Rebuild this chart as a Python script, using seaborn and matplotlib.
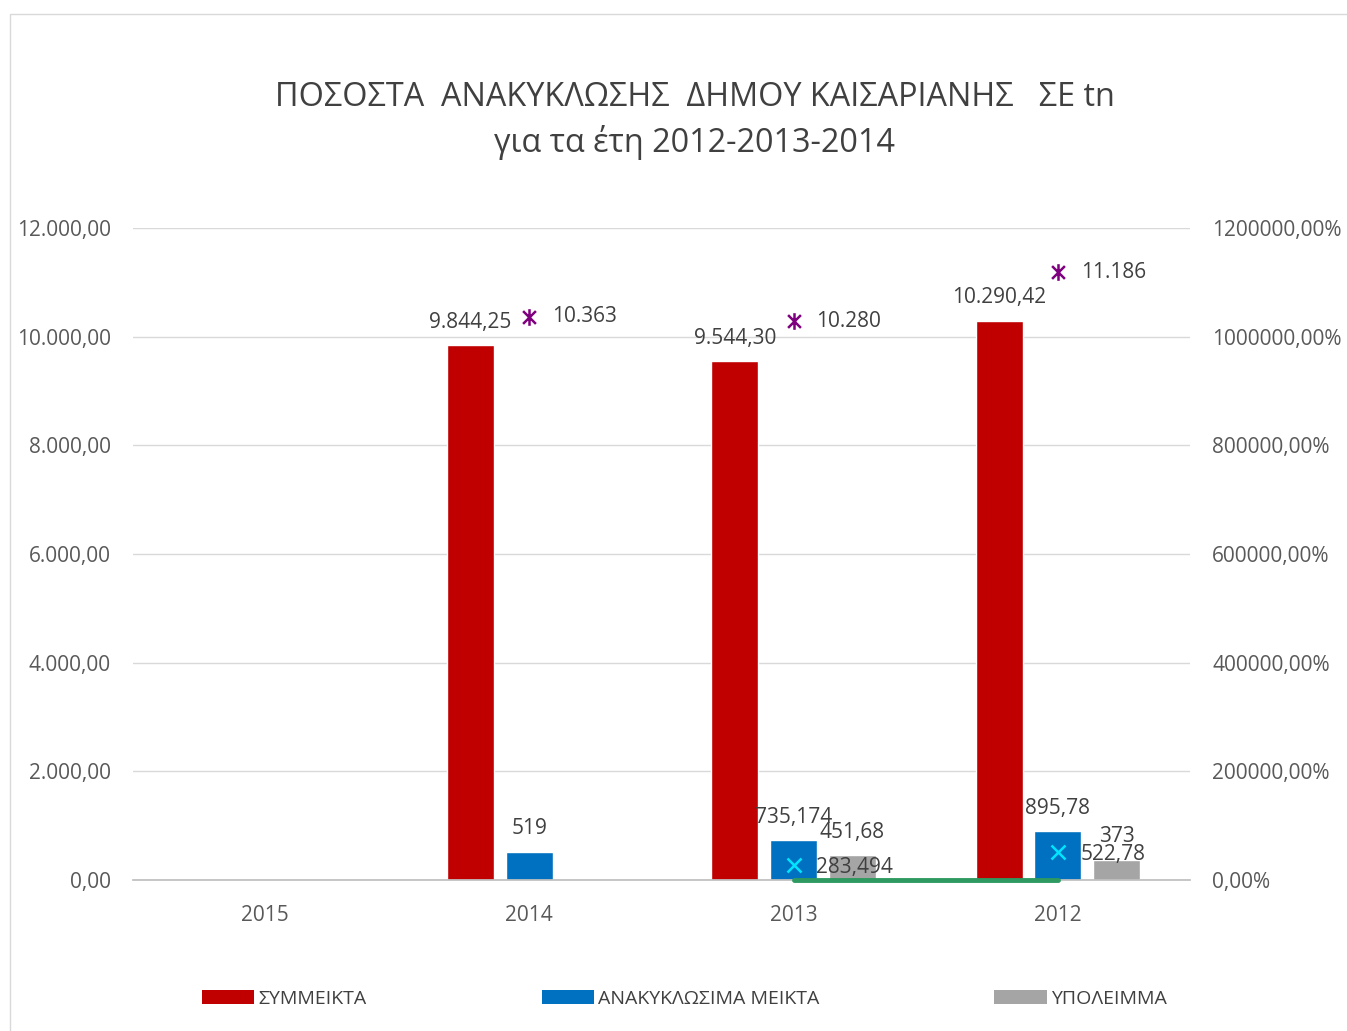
import matplotlib
matplotlib.use('Agg')
import matplotlib.pyplot as plt
from matplotlib.patches import Patch, Rectangle
from matplotlib.path import Path
import seaborn as sns
import pandas as pd
import numpy as np

# data
years = ['2015', '2014', '2013', '2012']
series = ['ΣΥΜΜΕΙΚΤΑ', 'ΑΝΑΚΥΚΛΩΣΙΜΑ ΜΕΙΚΤΑ', 'ΥΠΟΛΕΙΜΜΑ']
symmeikta = [np.nan, 9844.25, 9544.30, 10290.42]
anakyklosima = [np.nan, 519, 735.174, 895.78]
ypoleimma = [np.nan, np.nan, 451.68, 373]
synolo = [np.nan, 10363, 10280, 11186]
cross_vals = [np.nan, np.nan, 283.494, 522.78]
pososto = [np.nan, np.nan, 0.0, 0.0]

colors = ['#C00000', '#0070C0', '#A5A5A5']
txt = '#404040'

sns.set_theme(style='white')
plt.rcParams['font.family'] = ['Open Sans', 'DejaVu Sans']

rows = []
for s, vals in zip(series, [symmeikta, anakyklosima, ypoleimma]):
    for y, v in zip(years, vals):
        if not np.isnan(v):
            rows.append({'year': y, 'series': s, 'value': v})
df = pd.DataFrame(rows)

fig = plt.figure(figsize=(13.47, 10.31), dpi=100)
ax = fig.add_axes([0.0987, 0.1465, 0.7847, 0.6324])

sns.barplot(data=df, x='year', y='value', hue='series', order=years,
            hue_order=series, palette=colors, width=0.667, gap=0.2,
            saturation=1, legend=False, ax=ax)


def gr_thousands(v, dec):
    s = f"{v:,.{dec}f}"
    return s.replace(',', 'X').replace('.', ',').replace('X', '.')


def gr_general(v):
    return f"{v:g}".replace('.', ',')


for i, cont in enumerate(ax.containers):
    if i == 0:
        fmt = lambda v: gr_thousands(v, 2)
    else:
        fmt = gr_general
    ax.bar_label(cont, fmt=fmt, padding=9, fontsize=15, color=txt)

xpos = np.arange(len(years))

# star markers (totals)
star = Path([(-1, -1), (1, 1), (-1, 1), (1, -1), (0, -1.3), (0, 1.3)],
            [Path.MOVETO, Path.LINETO, Path.MOVETO, Path.LINETO,
             Path.MOVETO, Path.LINETO])
ax.plot(xpos, synolo, linestyle='none', marker=star, markersize=12,
        markerfacecolor='none', markeredgecolor='#7F007F', markeredgewidth=1.8)
for x, v in zip(xpos, synolo):
    if not np.isnan(v):
        ax.annotate(gr_thousands(v, 0), (x, v), xytext=(16.5, 0),
                    textcoords='offset points', ha='left', va='center',
                    fontsize=15, color=txt)

# cyan x markers
ax.plot(xpos, cross_vals, linestyle='none', marker='x', markersize=10,
        markeredgecolor='#00E5FF', markeredgewidth=1.8)
for x, v in zip(xpos, cross_vals):
    if not np.isnan(v):
        ax.annotate(gr_general(v), (x, v), xytext=(16.5, -2),
                    textcoords='offset points', ha='left', va='center',
                    fontsize=15, color=txt)

ax.set_xlim(-0.5, 3.5)
ax.set_ylim(0, 12000)
ax.set_yticks(np.arange(0, 12001, 2000))
ax.set_yticklabels([gr_thousands(v, 2) for v in np.arange(0, 12001, 2000)])
ax.set_xlabel('')
ax.set_ylabel('')
ax.grid(axis='y', color='#D9D9D9', linewidth=1)
ax.set_axisbelow(True)
for s in ['top', 'left', 'right']:
    ax.spines[s].set_visible(False)
ax.spines['bottom'].set_color('#BFBFBF')
ax.tick_params(axis='both', length=0, labelsize=15, labelcolor='#595959')
ax.tick_params(axis='y', pad=16)
ax.tick_params(axis='x', pad=18)

# secondary axis (percent)
ax2 = ax.twinx()
sns.lineplot(x=xpos, y=pososto, color='#2E9960', linewidth=3.5, ax=ax2)
ax2.set_ylim(0, 12000)
ax2.set_xlim(-0.5, 3.5)
ax2.set_yticks(np.arange(0, 12001, 2000))
ax2.set_yticklabels([f"{v * 100:.2f}".replace('.', ',') + '%'
                     for v in np.arange(0, 12001, 2000)])
for s in ['top', 'left', 'right', 'bottom']:
    ax2.spines[s].set_visible(False)
ax2.tick_params(axis='y', length=0, labelsize=15, labelcolor='#595959', pad=16)
ax2.grid(False)
for ln in ax2.lines:
    ln.set_clip_on(False)

# title
fig.text(0.5157, 1 - 97 / 1031, 'ΠΟΣΟΣΤΑ  ΑΝΑΚΥΚΛΩΣΗΣ  ΔΗΜΟΥ ΚΑΙΣΑΡΙΑΝΗΣ   ΣΕ tn',
         ha='center', va='center', fontsize=23.3, color='#404040')
fig.text(0.5157, 1 - 143 / 1031, 'για τα έτη 2012-2013-2014',
         ha='center', va='center', fontsize=23.3, color='#404040')

# legend
handles = [Patch(facecolor=c, edgecolor='none') for c in colors]
fig.legend(handles, series, loc='center', bbox_to_anchor=(0.508, 1 - 999 / 1031),
           ncol=3, frameon=False, fontsize=14, handlelength=2.7,
           handleheight=0.7, handletextpad=0.2, columnspacing=9.0,
           labelcolor=txt)

# chart border
fig.patches.append(Rectangle((10 / 1347, -0.01), 1.0, 1 - 14 / 1031 + 0.01,
                             transform=fig.transFigure, fill=False,
                             edgecolor='#D9D9D9', linewidth=1))

fig.savefig('out.png', dpi=100, facecolor='white')
